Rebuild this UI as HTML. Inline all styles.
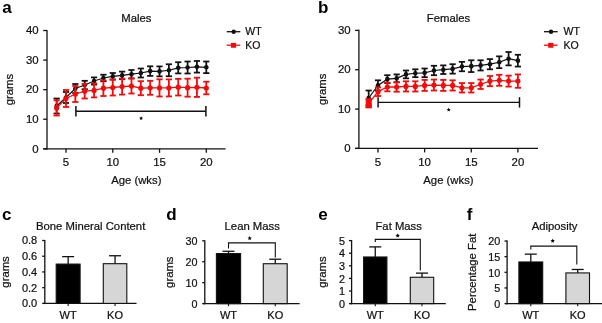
<!DOCTYPE html>
<html><head><meta charset="utf-8"><style>
html,body{margin:0;padding:0;background:#fff;}
svg{display:block;font-family:"Liberation Sans", sans-serif;will-change:transform;}
</style></head><body>
<svg width="602" height="323" viewBox="0 0 602 323">
<rect width="602" height="323" fill="#fff"/>
<text x="2.30" y="12.80" font-size="17" text-anchor="start" font-weight="bold" fill="#000">a</text>
<text x="318.10" y="12.80" font-size="17" text-anchor="start" font-weight="bold" fill="#000">b</text>
<text x="2.00" y="219.60" font-size="17" text-anchor="start" font-weight="bold" fill="#000">c</text>
<text x="166.20" y="219.90" font-size="17" text-anchor="start" font-weight="bold" fill="#000">d</text>
<text x="318.30" y="219.90" font-size="17" text-anchor="start" font-weight="bold" fill="#000">e</text>
<text x="466.80" y="220.20" font-size="17" text-anchor="start" font-weight="bold" fill="#000">f</text>
<line x1="47.00" y1="29.90" x2="47.00" y2="149.40" stroke="#111" stroke-width="1.3"/>
<line x1="43.20" y1="148.80" x2="225.60" y2="148.80" stroke="#111" stroke-width="1.3"/>
<line x1="43.20" y1="148.80" x2="47.00" y2="148.80" stroke="#111" stroke-width="1.3"/>
<text x="38.70" y="152.50" font-size="11.4" text-anchor="end" font-weight="normal" fill="#111" stroke="#111" stroke-width="0.22">0</text>
<line x1="43.20" y1="119.23" x2="47.00" y2="119.23" stroke="#111" stroke-width="1.3"/>
<text x="38.70" y="122.93" font-size="11.4" text-anchor="end" font-weight="normal" fill="#111" stroke="#111" stroke-width="0.22">10</text>
<line x1="43.20" y1="89.65" x2="47.00" y2="89.65" stroke="#111" stroke-width="1.3"/>
<text x="38.70" y="93.35" font-size="11.4" text-anchor="end" font-weight="normal" fill="#111" stroke="#111" stroke-width="0.22">20</text>
<line x1="43.20" y1="60.08" x2="47.00" y2="60.08" stroke="#111" stroke-width="1.3"/>
<text x="38.70" y="63.78" font-size="11.4" text-anchor="end" font-weight="normal" fill="#111" stroke="#111" stroke-width="0.22">30</text>
<line x1="43.20" y1="30.50" x2="47.00" y2="30.50" stroke="#111" stroke-width="1.3"/>
<text x="38.70" y="34.20" font-size="11.4" text-anchor="end" font-weight="normal" fill="#111" stroke="#111" stroke-width="0.22">40</text>
<line x1="66.00" y1="148.80" x2="66.00" y2="152.80" stroke="#111" stroke-width="1.3"/>
<text x="66.00" y="165.90" font-size="11.4" text-anchor="middle" font-weight="normal" fill="#111" stroke="#111" stroke-width="0.22">5</text>
<line x1="112.77" y1="148.80" x2="112.77" y2="152.80" stroke="#111" stroke-width="1.3"/>
<text x="112.77" y="165.90" font-size="11.4" text-anchor="middle" font-weight="normal" fill="#111" stroke="#111" stroke-width="0.22">10</text>
<line x1="159.53" y1="148.80" x2="159.53" y2="152.80" stroke="#111" stroke-width="1.3"/>
<text x="159.53" y="165.90" font-size="11.4" text-anchor="middle" font-weight="normal" fill="#111" stroke="#111" stroke-width="0.22">15</text>
<line x1="206.29" y1="148.80" x2="206.29" y2="152.80" stroke="#111" stroke-width="1.3"/>
<text x="206.29" y="165.90" font-size="11.4" text-anchor="middle" font-weight="normal" fill="#111" stroke="#111" stroke-width="0.22">20</text>
<text x="136.30" y="184.10" font-size="11.3" text-anchor="middle" font-weight="normal" fill="#111" stroke="#111" stroke-width="0.22">Age (wks)</text>
<text x="136.30" y="22.00" font-size="11.3" text-anchor="middle" font-weight="normal" fill="#111" stroke="#111" stroke-width="0.22">Males</text>
<text x="13.30" y="89.65" font-size="11.3" text-anchor="middle" font-weight="normal" fill="#111" stroke="#111" stroke-width="0.22" transform="rotate(-90 13.30 89.65)">grams</text>
<line x1="75.90" y1="111.20" x2="205.90" y2="111.20" stroke="#111" stroke-width="1.4"/>
<line x1="75.90" y1="106.00" x2="75.90" y2="116.40" stroke="#111" stroke-width="1.5"/>
<line x1="205.90" y1="106.00" x2="205.90" y2="116.40" stroke="#111" stroke-width="1.5"/>
<polygon points="141.10,116.20 141.66,117.54 143.10,117.65 142.00,118.59 142.33,120.00 141.10,119.24 139.87,120.00 140.20,118.59 139.10,117.65 140.54,117.54" fill="#000"/>
<polyline fill="none" stroke="#111" stroke-width="1.2" points="56.65,106.00 66.00,97.50 75.35,88.50 84.71,85.00 94.06,81.00 103.41,78.00 112.77,76.30 122.12,75.40 131.47,74.20 140.82,73.00 150.18,71.10 159.53,71.40 168.88,70.25 178.24,67.80 187.59,67.50 196.94,66.80 206.29,67.30"/>
<line x1="56.65" y1="98.50" x2="56.65" y2="113.50" stroke="#111" stroke-width="1.75"/>
<line x1="53.55" y1="98.50" x2="59.75" y2="98.50" stroke="#111" stroke-width="1.75"/>
<line x1="53.55" y1="113.50" x2="59.75" y2="113.50" stroke="#111" stroke-width="1.75"/>
<circle cx="56.65" cy="106.00" r="2.3" fill="#111"/>
<line x1="66.00" y1="92.00" x2="66.00" y2="103.00" stroke="#111" stroke-width="1.75"/>
<line x1="62.90" y1="92.00" x2="69.10" y2="92.00" stroke="#111" stroke-width="1.75"/>
<line x1="62.90" y1="103.00" x2="69.10" y2="103.00" stroke="#111" stroke-width="1.75"/>
<circle cx="66.00" cy="97.50" r="2.3" fill="#111"/>
<line x1="75.35" y1="84.00" x2="75.35" y2="93.00" stroke="#111" stroke-width="1.75"/>
<line x1="72.25" y1="84.00" x2="78.45" y2="84.00" stroke="#111" stroke-width="1.75"/>
<line x1="72.25" y1="93.00" x2="78.45" y2="93.00" stroke="#111" stroke-width="1.75"/>
<circle cx="75.35" cy="88.50" r="2.3" fill="#111"/>
<line x1="84.71" y1="80.80" x2="84.71" y2="89.20" stroke="#111" stroke-width="1.75"/>
<line x1="81.61" y1="80.80" x2="87.81" y2="80.80" stroke="#111" stroke-width="1.75"/>
<line x1="81.61" y1="89.20" x2="87.81" y2="89.20" stroke="#111" stroke-width="1.75"/>
<circle cx="84.71" cy="85.00" r="2.3" fill="#111"/>
<line x1="94.06" y1="77.40" x2="94.06" y2="84.60" stroke="#111" stroke-width="1.75"/>
<line x1="90.96" y1="77.40" x2="97.16" y2="77.40" stroke="#111" stroke-width="1.75"/>
<line x1="90.96" y1="84.60" x2="97.16" y2="84.60" stroke="#111" stroke-width="1.75"/>
<circle cx="94.06" cy="81.00" r="2.3" fill="#111"/>
<line x1="103.41" y1="74.70" x2="103.41" y2="81.30" stroke="#111" stroke-width="1.75"/>
<line x1="100.31" y1="74.70" x2="106.51" y2="74.70" stroke="#111" stroke-width="1.75"/>
<line x1="100.31" y1="81.30" x2="106.51" y2="81.30" stroke="#111" stroke-width="1.75"/>
<circle cx="103.41" cy="78.00" r="2.3" fill="#111"/>
<line x1="112.77" y1="73.00" x2="112.77" y2="79.60" stroke="#111" stroke-width="1.75"/>
<line x1="109.67" y1="73.00" x2="115.86" y2="73.00" stroke="#111" stroke-width="1.75"/>
<line x1="109.67" y1="79.60" x2="115.86" y2="79.60" stroke="#111" stroke-width="1.75"/>
<circle cx="112.77" cy="76.30" r="2.3" fill="#111"/>
<line x1="122.12" y1="71.60" x2="122.12" y2="79.20" stroke="#111" stroke-width="1.75"/>
<line x1="119.02" y1="71.60" x2="125.22" y2="71.60" stroke="#111" stroke-width="1.75"/>
<line x1="119.02" y1="79.20" x2="125.22" y2="79.20" stroke="#111" stroke-width="1.75"/>
<circle cx="122.12" cy="75.40" r="2.3" fill="#111"/>
<line x1="131.47" y1="70.00" x2="131.47" y2="78.40" stroke="#111" stroke-width="1.75"/>
<line x1="128.37" y1="70.00" x2="134.57" y2="70.00" stroke="#111" stroke-width="1.75"/>
<line x1="128.37" y1="78.40" x2="134.57" y2="78.40" stroke="#111" stroke-width="1.75"/>
<circle cx="131.47" cy="74.20" r="2.3" fill="#111"/>
<line x1="140.82" y1="68.50" x2="140.82" y2="77.50" stroke="#111" stroke-width="1.75"/>
<line x1="137.72" y1="68.50" x2="143.92" y2="68.50" stroke="#111" stroke-width="1.75"/>
<line x1="137.72" y1="77.50" x2="143.92" y2="77.50" stroke="#111" stroke-width="1.75"/>
<circle cx="140.82" cy="73.00" r="2.3" fill="#111"/>
<line x1="150.18" y1="66.30" x2="150.18" y2="75.90" stroke="#111" stroke-width="1.75"/>
<line x1="147.08" y1="66.30" x2="153.28" y2="66.30" stroke="#111" stroke-width="1.75"/>
<line x1="147.08" y1="75.90" x2="153.28" y2="75.90" stroke="#111" stroke-width="1.75"/>
<circle cx="150.18" cy="71.10" r="2.3" fill="#111"/>
<line x1="159.53" y1="66.40" x2="159.53" y2="76.40" stroke="#111" stroke-width="1.75"/>
<line x1="156.43" y1="66.40" x2="162.63" y2="66.40" stroke="#111" stroke-width="1.75"/>
<line x1="156.43" y1="76.40" x2="162.63" y2="76.40" stroke="#111" stroke-width="1.75"/>
<circle cx="159.53" cy="71.40" r="2.3" fill="#111"/>
<line x1="168.88" y1="64.25" x2="168.88" y2="76.25" stroke="#111" stroke-width="1.75"/>
<line x1="165.78" y1="64.25" x2="171.98" y2="64.25" stroke="#111" stroke-width="1.75"/>
<line x1="165.78" y1="76.25" x2="171.98" y2="76.25" stroke="#111" stroke-width="1.75"/>
<circle cx="168.88" cy="70.25" r="2.3" fill="#111"/>
<line x1="178.24" y1="62.20" x2="178.24" y2="73.40" stroke="#111" stroke-width="1.75"/>
<line x1="175.14" y1="62.20" x2="181.34" y2="62.20" stroke="#111" stroke-width="1.75"/>
<line x1="175.14" y1="73.40" x2="181.34" y2="73.40" stroke="#111" stroke-width="1.75"/>
<circle cx="178.24" cy="67.80" r="2.3" fill="#111"/>
<line x1="187.59" y1="61.50" x2="187.59" y2="73.50" stroke="#111" stroke-width="1.75"/>
<line x1="184.49" y1="61.50" x2="190.69" y2="61.50" stroke="#111" stroke-width="1.75"/>
<line x1="184.49" y1="73.50" x2="190.69" y2="73.50" stroke="#111" stroke-width="1.75"/>
<circle cx="187.59" cy="67.50" r="2.3" fill="#111"/>
<line x1="196.94" y1="61.00" x2="196.94" y2="72.60" stroke="#111" stroke-width="1.75"/>
<line x1="193.84" y1="61.00" x2="200.04" y2="61.00" stroke="#111" stroke-width="1.75"/>
<line x1="193.84" y1="72.60" x2="200.04" y2="72.60" stroke="#111" stroke-width="1.75"/>
<circle cx="196.94" cy="66.80" r="2.3" fill="#111"/>
<line x1="206.29" y1="61.50" x2="206.29" y2="73.10" stroke="#111" stroke-width="1.75"/>
<line x1="203.19" y1="61.50" x2="209.39" y2="61.50" stroke="#111" stroke-width="1.75"/>
<line x1="203.19" y1="73.10" x2="209.39" y2="73.10" stroke="#111" stroke-width="1.75"/>
<circle cx="206.29" cy="67.30" r="2.3" fill="#111"/>
<polyline fill="none" stroke="#f50a0a" stroke-width="1.3" points="56.65,107.90 66.00,98.50 75.35,94.00 84.71,91.20 94.06,90.40 103.41,88.20 112.77,87.50 122.12,86.60 131.47,86.00 140.82,88.20 150.18,87.80 159.53,87.90 168.88,87.90 178.24,87.20 187.59,87.70 196.94,87.30 206.29,88.00"/>
<line x1="56.65" y1="100.30" x2="56.65" y2="115.50" stroke="#f50a0a" stroke-width="1.8"/>
<line x1="53.55" y1="100.30" x2="59.75" y2="100.30" stroke="#f50a0a" stroke-width="1.8"/>
<line x1="53.55" y1="115.50" x2="59.75" y2="115.50" stroke="#f50a0a" stroke-width="1.8"/>
<circle cx="56.65" cy="107.90" r="2.6" fill="#f50a0a"/>
<line x1="66.00" y1="90.00" x2="66.00" y2="107.00" stroke="#f50a0a" stroke-width="1.8"/>
<line x1="62.90" y1="90.00" x2="69.10" y2="90.00" stroke="#f50a0a" stroke-width="1.8"/>
<line x1="62.90" y1="107.00" x2="69.10" y2="107.00" stroke="#f50a0a" stroke-width="1.8"/>
<circle cx="66.00" cy="98.50" r="2.6" fill="#f50a0a"/>
<line x1="75.35" y1="86.00" x2="75.35" y2="102.00" stroke="#f50a0a" stroke-width="1.8"/>
<line x1="72.25" y1="86.00" x2="78.45" y2="86.00" stroke="#f50a0a" stroke-width="1.8"/>
<line x1="72.25" y1="102.00" x2="78.45" y2="102.00" stroke="#f50a0a" stroke-width="1.8"/>
<circle cx="75.35" cy="94.00" r="2.6" fill="#f50a0a"/>
<line x1="84.71" y1="83.90" x2="84.71" y2="98.50" stroke="#f50a0a" stroke-width="1.8"/>
<line x1="81.61" y1="83.90" x2="87.81" y2="83.90" stroke="#f50a0a" stroke-width="1.8"/>
<line x1="81.61" y1="98.50" x2="87.81" y2="98.50" stroke="#f50a0a" stroke-width="1.8"/>
<circle cx="84.71" cy="91.20" r="2.6" fill="#f50a0a"/>
<line x1="94.06" y1="83.40" x2="94.06" y2="97.40" stroke="#f50a0a" stroke-width="1.8"/>
<line x1="90.96" y1="83.40" x2="97.16" y2="83.40" stroke="#f50a0a" stroke-width="1.8"/>
<line x1="90.96" y1="97.40" x2="97.16" y2="97.40" stroke="#f50a0a" stroke-width="1.8"/>
<circle cx="94.06" cy="90.40" r="2.6" fill="#f50a0a"/>
<line x1="103.41" y1="80.40" x2="103.41" y2="96.00" stroke="#f50a0a" stroke-width="1.8"/>
<line x1="100.31" y1="80.40" x2="106.51" y2="80.40" stroke="#f50a0a" stroke-width="1.8"/>
<line x1="100.31" y1="96.00" x2="106.51" y2="96.00" stroke="#f50a0a" stroke-width="1.8"/>
<circle cx="103.41" cy="88.20" r="2.6" fill="#f50a0a"/>
<line x1="112.77" y1="79.50" x2="112.77" y2="95.50" stroke="#f50a0a" stroke-width="1.8"/>
<line x1="109.67" y1="79.50" x2="115.86" y2="79.50" stroke="#f50a0a" stroke-width="1.8"/>
<line x1="109.67" y1="95.50" x2="115.86" y2="95.50" stroke="#f50a0a" stroke-width="1.8"/>
<circle cx="112.77" cy="87.50" r="2.6" fill="#f50a0a"/>
<line x1="122.12" y1="78.60" x2="122.12" y2="94.60" stroke="#f50a0a" stroke-width="1.8"/>
<line x1="119.02" y1="78.60" x2="125.22" y2="78.60" stroke="#f50a0a" stroke-width="1.8"/>
<line x1="119.02" y1="94.60" x2="125.22" y2="94.60" stroke="#f50a0a" stroke-width="1.8"/>
<circle cx="122.12" cy="86.60" r="2.6" fill="#f50a0a"/>
<line x1="131.47" y1="78.50" x2="131.47" y2="93.50" stroke="#f50a0a" stroke-width="1.8"/>
<line x1="128.37" y1="78.50" x2="134.57" y2="78.50" stroke="#f50a0a" stroke-width="1.8"/>
<line x1="128.37" y1="93.50" x2="134.57" y2="93.50" stroke="#f50a0a" stroke-width="1.8"/>
<circle cx="131.47" cy="86.00" r="2.6" fill="#f50a0a"/>
<line x1="140.82" y1="81.20" x2="140.82" y2="95.20" stroke="#f50a0a" stroke-width="1.8"/>
<line x1="137.72" y1="81.20" x2="143.92" y2="81.20" stroke="#f50a0a" stroke-width="1.8"/>
<line x1="137.72" y1="95.20" x2="143.92" y2="95.20" stroke="#f50a0a" stroke-width="1.8"/>
<circle cx="140.82" cy="88.20" r="2.6" fill="#f50a0a"/>
<line x1="150.18" y1="80.80" x2="150.18" y2="94.80" stroke="#f50a0a" stroke-width="1.8"/>
<line x1="147.08" y1="80.80" x2="153.28" y2="80.80" stroke="#f50a0a" stroke-width="1.8"/>
<line x1="147.08" y1="94.80" x2="153.28" y2="94.80" stroke="#f50a0a" stroke-width="1.8"/>
<circle cx="150.18" cy="87.80" r="2.6" fill="#f50a0a"/>
<line x1="159.53" y1="79.30" x2="159.53" y2="96.50" stroke="#f50a0a" stroke-width="1.8"/>
<line x1="156.43" y1="79.30" x2="162.63" y2="79.30" stroke="#f50a0a" stroke-width="1.8"/>
<line x1="156.43" y1="96.50" x2="162.63" y2="96.50" stroke="#f50a0a" stroke-width="1.8"/>
<circle cx="159.53" cy="87.90" r="2.6" fill="#f50a0a"/>
<line x1="168.88" y1="79.40" x2="168.88" y2="96.40" stroke="#f50a0a" stroke-width="1.8"/>
<line x1="165.78" y1="79.40" x2="171.98" y2="79.40" stroke="#f50a0a" stroke-width="1.8"/>
<line x1="165.78" y1="96.40" x2="171.98" y2="96.40" stroke="#f50a0a" stroke-width="1.8"/>
<circle cx="168.88" cy="87.90" r="2.6" fill="#f50a0a"/>
<line x1="178.24" y1="78.90" x2="178.24" y2="95.50" stroke="#f50a0a" stroke-width="1.8"/>
<line x1="175.14" y1="78.90" x2="181.34" y2="78.90" stroke="#f50a0a" stroke-width="1.8"/>
<line x1="175.14" y1="95.50" x2="181.34" y2="95.50" stroke="#f50a0a" stroke-width="1.8"/>
<circle cx="178.24" cy="87.20" r="2.6" fill="#f50a0a"/>
<line x1="187.59" y1="78.70" x2="187.59" y2="96.70" stroke="#f50a0a" stroke-width="1.8"/>
<line x1="184.49" y1="78.70" x2="190.69" y2="78.70" stroke="#f50a0a" stroke-width="1.8"/>
<line x1="184.49" y1="96.70" x2="190.69" y2="96.70" stroke="#f50a0a" stroke-width="1.8"/>
<circle cx="187.59" cy="87.70" r="2.6" fill="#f50a0a"/>
<line x1="196.94" y1="77.70" x2="196.94" y2="96.90" stroke="#f50a0a" stroke-width="1.8"/>
<line x1="193.84" y1="77.70" x2="200.04" y2="77.70" stroke="#f50a0a" stroke-width="1.8"/>
<line x1="193.84" y1="96.90" x2="200.04" y2="96.90" stroke="#f50a0a" stroke-width="1.8"/>
<circle cx="196.94" cy="87.30" r="2.6" fill="#f50a0a"/>
<line x1="206.29" y1="81.70" x2="206.29" y2="94.30" stroke="#f50a0a" stroke-width="1.8"/>
<line x1="203.19" y1="81.70" x2="209.39" y2="81.70" stroke="#f50a0a" stroke-width="1.8"/>
<line x1="203.19" y1="94.30" x2="209.39" y2="94.30" stroke="#f50a0a" stroke-width="1.8"/>
<circle cx="206.29" cy="88.00" r="2.6" fill="#f50a0a"/>
<line x1="226.70" y1="31.70" x2="240.30" y2="31.70" stroke="#111" stroke-width="1.3"/>
<circle cx="233.70" cy="31.7" r="2.2" fill="#111"/>
<text x="245.30" y="35.30" font-size="10.5" text-anchor="start" font-weight="normal" fill="#111" stroke="#111" stroke-width="0.22">WT</text>
<line x1="226.70" y1="45.20" x2="240.30" y2="45.20" stroke="#f50a0a" stroke-width="1.3"/>
<rect x="230.90" y="42.85" width="5.2" height="4.9" fill="#f50a0a"/>
<text x="245.30" y="48.70" font-size="10.5" text-anchor="start" font-weight="normal" fill="#111" stroke="#111" stroke-width="0.22">KO</text>
<line x1="358.90" y1="29.80" x2="358.90" y2="149.00" stroke="#111" stroke-width="1.3"/>
<line x1="355.10" y1="148.40" x2="538.00" y2="148.40" stroke="#111" stroke-width="1.3"/>
<line x1="355.10" y1="148.40" x2="358.90" y2="148.40" stroke="#111" stroke-width="1.3"/>
<text x="350.60" y="152.10" font-size="11.4" text-anchor="end" font-weight="normal" fill="#111" stroke="#111" stroke-width="0.22">0</text>
<line x1="355.10" y1="109.07" x2="358.90" y2="109.07" stroke="#111" stroke-width="1.3"/>
<text x="350.60" y="112.77" font-size="11.4" text-anchor="end" font-weight="normal" fill="#111" stroke="#111" stroke-width="0.22">10</text>
<line x1="355.10" y1="69.73" x2="358.90" y2="69.73" stroke="#111" stroke-width="1.3"/>
<text x="350.60" y="73.43" font-size="11.4" text-anchor="end" font-weight="normal" fill="#111" stroke="#111" stroke-width="0.22">20</text>
<line x1="355.10" y1="30.40" x2="358.90" y2="30.40" stroke="#111" stroke-width="1.3"/>
<text x="350.60" y="34.10" font-size="11.4" text-anchor="end" font-weight="normal" fill="#111" stroke="#111" stroke-width="0.22">30</text>
<line x1="378.00" y1="148.40" x2="378.00" y2="152.40" stroke="#111" stroke-width="1.3"/>
<text x="378.00" y="165.50" font-size="11.4" text-anchor="middle" font-weight="normal" fill="#111" stroke="#111" stroke-width="0.22">5</text>
<line x1="424.63" y1="148.40" x2="424.63" y2="152.40" stroke="#111" stroke-width="1.3"/>
<text x="424.63" y="165.50" font-size="11.4" text-anchor="middle" font-weight="normal" fill="#111" stroke="#111" stroke-width="0.22">10</text>
<line x1="471.27" y1="148.40" x2="471.27" y2="152.40" stroke="#111" stroke-width="1.3"/>
<text x="471.27" y="165.50" font-size="11.4" text-anchor="middle" font-weight="normal" fill="#111" stroke="#111" stroke-width="0.22">15</text>
<line x1="517.90" y1="148.40" x2="517.90" y2="152.40" stroke="#111" stroke-width="1.3"/>
<text x="517.90" y="165.50" font-size="11.4" text-anchor="middle" font-weight="normal" fill="#111" stroke="#111" stroke-width="0.22">20</text>
<text x="448.45" y="184.10" font-size="11.3" text-anchor="middle" font-weight="normal" fill="#111" stroke="#111" stroke-width="0.22">Age (wks)</text>
<text x="448.45" y="22.00" font-size="11.3" text-anchor="middle" font-weight="normal" fill="#111" stroke="#111" stroke-width="0.22">Females</text>
<text x="326.30" y="89.40" font-size="11.3" text-anchor="middle" font-weight="normal" fill="#111" stroke="#111" stroke-width="0.22" transform="rotate(-90 326.30 89.40)">grams</text>
<line x1="378.10" y1="102.40" x2="519.50" y2="102.40" stroke="#111" stroke-width="1.4"/>
<line x1="378.10" y1="97.20" x2="378.10" y2="107.60" stroke="#111" stroke-width="1.5"/>
<line x1="519.50" y1="97.20" x2="519.50" y2="107.60" stroke="#111" stroke-width="1.5"/>
<polygon points="448.70,107.60 449.26,108.94 450.70,109.05 449.60,109.99 449.93,111.40 448.70,110.64 447.47,111.40 447.80,109.99 446.70,109.05 448.14,108.94" fill="#000"/>
<polyline fill="none" stroke="#111" stroke-width="1.2" points="368.67,98.00 378.00,85.42 387.33,79.13 396.65,78.35 405.98,74.42 415.31,73.24 424.63,72.84 433.96,70.49 443.29,69.70 452.62,68.91 461.94,66.56 471.27,66.16 480.60,65.38 489.92,64.20 499.25,62.23 508.58,58.70 517.90,60.66"/>
<line x1="368.67" y1="90.53" x2="368.67" y2="105.46" stroke="#111" stroke-width="1.75"/>
<line x1="365.57" y1="90.53" x2="371.77" y2="90.53" stroke="#111" stroke-width="1.75"/>
<line x1="365.57" y1="105.46" x2="371.77" y2="105.46" stroke="#111" stroke-width="1.75"/>
<circle cx="368.67" cy="98.00" r="2.3" fill="#111"/>
<line x1="378.00" y1="80.31" x2="378.00" y2="90.53" stroke="#111" stroke-width="1.75"/>
<line x1="374.90" y1="80.31" x2="381.10" y2="80.31" stroke="#111" stroke-width="1.75"/>
<line x1="374.90" y1="90.53" x2="381.10" y2="90.53" stroke="#111" stroke-width="1.75"/>
<circle cx="378.00" cy="85.42" r="2.3" fill="#111"/>
<line x1="387.33" y1="75.20" x2="387.33" y2="83.06" stroke="#111" stroke-width="1.75"/>
<line x1="384.23" y1="75.20" x2="390.43" y2="75.20" stroke="#111" stroke-width="1.75"/>
<line x1="384.23" y1="83.06" x2="390.43" y2="83.06" stroke="#111" stroke-width="1.75"/>
<circle cx="387.33" cy="79.13" r="2.3" fill="#111"/>
<line x1="396.65" y1="74.42" x2="396.65" y2="82.28" stroke="#111" stroke-width="1.75"/>
<line x1="393.55" y1="74.42" x2="399.75" y2="74.42" stroke="#111" stroke-width="1.75"/>
<line x1="393.55" y1="82.28" x2="399.75" y2="82.28" stroke="#111" stroke-width="1.75"/>
<circle cx="396.65" cy="78.35" r="2.3" fill="#111"/>
<line x1="405.98" y1="70.49" x2="405.98" y2="78.35" stroke="#111" stroke-width="1.75"/>
<line x1="402.88" y1="70.49" x2="409.08" y2="70.49" stroke="#111" stroke-width="1.75"/>
<line x1="402.88" y1="78.35" x2="409.08" y2="78.35" stroke="#111" stroke-width="1.75"/>
<circle cx="405.98" cy="74.42" r="2.3" fill="#111"/>
<line x1="415.31" y1="69.31" x2="415.31" y2="77.17" stroke="#111" stroke-width="1.75"/>
<line x1="412.21" y1="69.31" x2="418.41" y2="69.31" stroke="#111" stroke-width="1.75"/>
<line x1="412.21" y1="77.17" x2="418.41" y2="77.17" stroke="#111" stroke-width="1.75"/>
<circle cx="415.31" cy="73.24" r="2.3" fill="#111"/>
<line x1="424.63" y1="68.52" x2="424.63" y2="77.17" stroke="#111" stroke-width="1.75"/>
<line x1="421.53" y1="68.52" x2="427.74" y2="68.52" stroke="#111" stroke-width="1.75"/>
<line x1="421.53" y1="77.17" x2="427.74" y2="77.17" stroke="#111" stroke-width="1.75"/>
<circle cx="424.63" cy="72.84" r="2.3" fill="#111"/>
<line x1="433.96" y1="65.77" x2="433.96" y2="75.20" stroke="#111" stroke-width="1.75"/>
<line x1="430.86" y1="65.77" x2="437.06" y2="65.77" stroke="#111" stroke-width="1.75"/>
<line x1="430.86" y1="75.20" x2="437.06" y2="75.20" stroke="#111" stroke-width="1.75"/>
<circle cx="433.96" cy="70.49" r="2.3" fill="#111"/>
<line x1="443.29" y1="65.38" x2="443.29" y2="74.02" stroke="#111" stroke-width="1.75"/>
<line x1="440.19" y1="65.38" x2="446.39" y2="65.38" stroke="#111" stroke-width="1.75"/>
<line x1="440.19" y1="74.02" x2="446.39" y2="74.02" stroke="#111" stroke-width="1.75"/>
<circle cx="443.29" cy="69.70" r="2.3" fill="#111"/>
<line x1="452.62" y1="64.20" x2="452.62" y2="73.63" stroke="#111" stroke-width="1.75"/>
<line x1="449.52" y1="64.20" x2="455.72" y2="64.20" stroke="#111" stroke-width="1.75"/>
<line x1="449.52" y1="73.63" x2="455.72" y2="73.63" stroke="#111" stroke-width="1.75"/>
<circle cx="452.62" cy="68.91" r="2.3" fill="#111"/>
<line x1="461.94" y1="61.84" x2="461.94" y2="71.27" stroke="#111" stroke-width="1.75"/>
<line x1="458.84" y1="61.84" x2="465.04" y2="61.84" stroke="#111" stroke-width="1.75"/>
<line x1="458.84" y1="71.27" x2="465.04" y2="71.27" stroke="#111" stroke-width="1.75"/>
<circle cx="461.94" cy="66.56" r="2.3" fill="#111"/>
<line x1="471.27" y1="60.27" x2="471.27" y2="72.06" stroke="#111" stroke-width="1.75"/>
<line x1="468.17" y1="60.27" x2="474.37" y2="60.27" stroke="#111" stroke-width="1.75"/>
<line x1="468.17" y1="72.06" x2="474.37" y2="72.06" stroke="#111" stroke-width="1.75"/>
<circle cx="471.27" cy="66.16" r="2.3" fill="#111"/>
<line x1="480.60" y1="60.27" x2="480.60" y2="70.49" stroke="#111" stroke-width="1.75"/>
<line x1="477.50" y1="60.27" x2="483.70" y2="60.27" stroke="#111" stroke-width="1.75"/>
<line x1="477.50" y1="70.49" x2="483.70" y2="70.49" stroke="#111" stroke-width="1.75"/>
<circle cx="480.60" cy="65.38" r="2.3" fill="#111"/>
<line x1="489.92" y1="59.09" x2="489.92" y2="69.31" stroke="#111" stroke-width="1.75"/>
<line x1="486.82" y1="59.09" x2="493.02" y2="59.09" stroke="#111" stroke-width="1.75"/>
<line x1="486.82" y1="69.31" x2="493.02" y2="69.31" stroke="#111" stroke-width="1.75"/>
<circle cx="489.92" cy="64.20" r="2.3" fill="#111"/>
<line x1="499.25" y1="56.34" x2="499.25" y2="68.13" stroke="#111" stroke-width="1.75"/>
<line x1="496.15" y1="56.34" x2="502.35" y2="56.34" stroke="#111" stroke-width="1.75"/>
<line x1="496.15" y1="68.13" x2="502.35" y2="68.13" stroke="#111" stroke-width="1.75"/>
<circle cx="499.25" cy="62.23" r="2.3" fill="#111"/>
<line x1="508.58" y1="52.02" x2="508.58" y2="65.38" stroke="#111" stroke-width="1.75"/>
<line x1="505.48" y1="52.02" x2="511.68" y2="52.02" stroke="#111" stroke-width="1.75"/>
<line x1="505.48" y1="65.38" x2="511.68" y2="65.38" stroke="#111" stroke-width="1.75"/>
<circle cx="508.58" cy="58.70" r="2.3" fill="#111"/>
<line x1="517.90" y1="54.77" x2="517.90" y2="66.56" stroke="#111" stroke-width="1.75"/>
<line x1="514.80" y1="54.77" x2="521.00" y2="54.77" stroke="#111" stroke-width="1.75"/>
<line x1="514.80" y1="66.56" x2="521.00" y2="66.56" stroke="#111" stroke-width="1.75"/>
<circle cx="517.90" cy="60.66" r="2.3" fill="#111"/>
<polyline fill="none" stroke="#f50a0a" stroke-width="1.3" points="368.67,103.30 378.00,91.71 387.33,86.99 396.65,86.99 405.98,86.40 415.31,86.40 424.63,85.42 433.96,85.03 443.29,85.42 452.62,85.42 461.94,87.78 471.27,87.78 480.60,84.24 489.92,81.10 499.25,80.31 508.58,81.10 517.90,81.10"/>
<line x1="368.67" y1="99.18" x2="368.67" y2="107.43" stroke="#f50a0a" stroke-width="1.8"/>
<line x1="365.57" y1="99.18" x2="371.77" y2="99.18" stroke="#f50a0a" stroke-width="1.8"/>
<line x1="365.57" y1="107.43" x2="371.77" y2="107.43" stroke="#f50a0a" stroke-width="1.8"/>
<circle cx="368.67" cy="103.30" r="2.6" fill="#f50a0a"/>
<line x1="378.00" y1="87.38" x2="378.00" y2="96.03" stroke="#f50a0a" stroke-width="1.8"/>
<line x1="374.90" y1="87.38" x2="381.10" y2="87.38" stroke="#f50a0a" stroke-width="1.8"/>
<line x1="374.90" y1="96.03" x2="381.10" y2="96.03" stroke="#f50a0a" stroke-width="1.8"/>
<circle cx="378.00" cy="91.71" r="2.6" fill="#f50a0a"/>
<line x1="387.33" y1="82.67" x2="387.33" y2="91.32" stroke="#f50a0a" stroke-width="1.8"/>
<line x1="384.23" y1="82.67" x2="390.43" y2="82.67" stroke="#f50a0a" stroke-width="1.8"/>
<line x1="384.23" y1="91.32" x2="390.43" y2="91.32" stroke="#f50a0a" stroke-width="1.8"/>
<circle cx="387.33" cy="86.99" r="2.6" fill="#f50a0a"/>
<line x1="396.65" y1="82.28" x2="396.65" y2="91.71" stroke="#f50a0a" stroke-width="1.8"/>
<line x1="393.55" y1="82.28" x2="399.75" y2="82.28" stroke="#f50a0a" stroke-width="1.8"/>
<line x1="393.55" y1="91.71" x2="399.75" y2="91.71" stroke="#f50a0a" stroke-width="1.8"/>
<circle cx="396.65" cy="86.99" r="2.6" fill="#f50a0a"/>
<line x1="405.98" y1="81.29" x2="405.98" y2="91.51" stroke="#f50a0a" stroke-width="1.8"/>
<line x1="402.88" y1="81.29" x2="409.08" y2="81.29" stroke="#f50a0a" stroke-width="1.8"/>
<line x1="402.88" y1="91.51" x2="409.08" y2="91.51" stroke="#f50a0a" stroke-width="1.8"/>
<circle cx="405.98" cy="86.40" r="2.6" fill="#f50a0a"/>
<line x1="415.31" y1="81.29" x2="415.31" y2="91.51" stroke="#f50a0a" stroke-width="1.8"/>
<line x1="412.21" y1="81.29" x2="418.41" y2="81.29" stroke="#f50a0a" stroke-width="1.8"/>
<line x1="412.21" y1="91.51" x2="418.41" y2="91.51" stroke="#f50a0a" stroke-width="1.8"/>
<circle cx="415.31" cy="86.40" r="2.6" fill="#f50a0a"/>
<line x1="424.63" y1="79.92" x2="424.63" y2="90.92" stroke="#f50a0a" stroke-width="1.8"/>
<line x1="421.53" y1="79.92" x2="427.74" y2="79.92" stroke="#f50a0a" stroke-width="1.8"/>
<line x1="421.53" y1="90.92" x2="427.74" y2="90.92" stroke="#f50a0a" stroke-width="1.8"/>
<circle cx="424.63" cy="85.42" r="2.6" fill="#f50a0a"/>
<line x1="433.96" y1="79.53" x2="433.96" y2="90.53" stroke="#f50a0a" stroke-width="1.8"/>
<line x1="430.86" y1="79.53" x2="437.06" y2="79.53" stroke="#f50a0a" stroke-width="1.8"/>
<line x1="430.86" y1="90.53" x2="437.06" y2="90.53" stroke="#f50a0a" stroke-width="1.8"/>
<circle cx="433.96" cy="85.03" r="2.6" fill="#f50a0a"/>
<line x1="443.29" y1="79.92" x2="443.29" y2="90.92" stroke="#f50a0a" stroke-width="1.8"/>
<line x1="440.19" y1="79.92" x2="446.39" y2="79.92" stroke="#f50a0a" stroke-width="1.8"/>
<line x1="440.19" y1="90.92" x2="446.39" y2="90.92" stroke="#f50a0a" stroke-width="1.8"/>
<circle cx="443.29" cy="85.42" r="2.6" fill="#f50a0a"/>
<line x1="452.62" y1="80.31" x2="452.62" y2="90.53" stroke="#f50a0a" stroke-width="1.8"/>
<line x1="449.52" y1="80.31" x2="455.72" y2="80.31" stroke="#f50a0a" stroke-width="1.8"/>
<line x1="449.52" y1="90.53" x2="455.72" y2="90.53" stroke="#f50a0a" stroke-width="1.8"/>
<circle cx="452.62" cy="85.42" r="2.6" fill="#f50a0a"/>
<line x1="461.94" y1="83.06" x2="461.94" y2="92.49" stroke="#f50a0a" stroke-width="1.8"/>
<line x1="458.84" y1="83.06" x2="465.04" y2="83.06" stroke="#f50a0a" stroke-width="1.8"/>
<line x1="458.84" y1="92.49" x2="465.04" y2="92.49" stroke="#f50a0a" stroke-width="1.8"/>
<circle cx="461.94" cy="87.78" r="2.6" fill="#f50a0a"/>
<line x1="471.27" y1="83.06" x2="471.27" y2="92.49" stroke="#f50a0a" stroke-width="1.8"/>
<line x1="468.17" y1="83.06" x2="474.37" y2="83.06" stroke="#f50a0a" stroke-width="1.8"/>
<line x1="468.17" y1="92.49" x2="474.37" y2="92.49" stroke="#f50a0a" stroke-width="1.8"/>
<circle cx="471.27" cy="87.78" r="2.6" fill="#f50a0a"/>
<line x1="480.60" y1="79.53" x2="480.60" y2="88.96" stroke="#f50a0a" stroke-width="1.8"/>
<line x1="477.50" y1="79.53" x2="483.70" y2="79.53" stroke="#f50a0a" stroke-width="1.8"/>
<line x1="477.50" y1="88.96" x2="483.70" y2="88.96" stroke="#f50a0a" stroke-width="1.8"/>
<circle cx="480.60" cy="84.24" r="2.6" fill="#f50a0a"/>
<line x1="489.92" y1="75.99" x2="489.92" y2="86.21" stroke="#f50a0a" stroke-width="1.8"/>
<line x1="486.82" y1="75.99" x2="493.02" y2="75.99" stroke="#f50a0a" stroke-width="1.8"/>
<line x1="486.82" y1="86.21" x2="493.02" y2="86.21" stroke="#f50a0a" stroke-width="1.8"/>
<circle cx="489.92" cy="81.10" r="2.6" fill="#f50a0a"/>
<line x1="499.25" y1="74.81" x2="499.25" y2="85.81" stroke="#f50a0a" stroke-width="1.8"/>
<line x1="496.15" y1="74.81" x2="502.35" y2="74.81" stroke="#f50a0a" stroke-width="1.8"/>
<line x1="496.15" y1="85.81" x2="502.35" y2="85.81" stroke="#f50a0a" stroke-width="1.8"/>
<circle cx="499.25" cy="80.31" r="2.6" fill="#f50a0a"/>
<line x1="508.58" y1="75.60" x2="508.58" y2="86.60" stroke="#f50a0a" stroke-width="1.8"/>
<line x1="505.48" y1="75.60" x2="511.68" y2="75.60" stroke="#f50a0a" stroke-width="1.8"/>
<line x1="505.48" y1="86.60" x2="511.68" y2="86.60" stroke="#f50a0a" stroke-width="1.8"/>
<circle cx="508.58" cy="81.10" r="2.6" fill="#f50a0a"/>
<line x1="517.90" y1="74.42" x2="517.90" y2="87.78" stroke="#f50a0a" stroke-width="1.8"/>
<line x1="514.80" y1="74.42" x2="521.00" y2="74.42" stroke="#f50a0a" stroke-width="1.8"/>
<line x1="514.80" y1="87.78" x2="521.00" y2="87.78" stroke="#f50a0a" stroke-width="1.8"/>
<circle cx="517.90" cy="81.10" r="2.6" fill="#f50a0a"/>
<line x1="544.00" y1="31.70" x2="557.60" y2="31.70" stroke="#111" stroke-width="1.3"/>
<circle cx="551.00" cy="31.7" r="2.2" fill="#111"/>
<text x="563.60" y="35.30" font-size="10.5" text-anchor="start" font-weight="normal" fill="#111" stroke="#111" stroke-width="0.22">WT</text>
<line x1="544.00" y1="45.20" x2="557.60" y2="45.20" stroke="#f50a0a" stroke-width="1.3"/>
<rect x="548.20" y="42.85" width="5.2" height="4.9" fill="#f50a0a"/>
<text x="563.60" y="48.70" font-size="10.5" text-anchor="start" font-weight="normal" fill="#111" stroke="#111" stroke-width="0.22">KO</text>
<rect x="365.7" y="98.6" width="6.0" height="9.2" fill="#f50a0a"/>
<line x1="44.80" y1="239.90" x2="44.80" y2="304.00" stroke="#111" stroke-width="1.3"/>
<line x1="43.30" y1="303.40" x2="136.50" y2="303.40" stroke="#111" stroke-width="1.3"/>
<line x1="42.20" y1="303.40" x2="44.80" y2="303.40" stroke="#111" stroke-width="1.3"/>
<text x="37.20" y="307.30" font-size="11.0" text-anchor="end" font-weight="normal" fill="#111" stroke="#111" stroke-width="0.22">0.0</text>
<line x1="42.20" y1="287.67" x2="44.80" y2="287.67" stroke="#111" stroke-width="1.3"/>
<text x="37.20" y="291.57" font-size="11.0" text-anchor="end" font-weight="normal" fill="#111" stroke="#111" stroke-width="0.22">0.2</text>
<line x1="42.20" y1="271.95" x2="44.80" y2="271.95" stroke="#111" stroke-width="1.3"/>
<text x="37.20" y="275.85" font-size="11.0" text-anchor="end" font-weight="normal" fill="#111" stroke="#111" stroke-width="0.22">0.4</text>
<line x1="42.20" y1="256.23" x2="44.80" y2="256.23" stroke="#111" stroke-width="1.3"/>
<text x="37.20" y="260.12" font-size="11.0" text-anchor="end" font-weight="normal" fill="#111" stroke="#111" stroke-width="0.22">0.6</text>
<line x1="42.20" y1="240.50" x2="44.80" y2="240.50" stroke="#111" stroke-width="1.3"/>
<text x="37.20" y="244.40" font-size="11.0" text-anchor="end" font-weight="normal" fill="#111" stroke="#111" stroke-width="0.22">0.8</text>
<line x1="68.15" y1="264.09" x2="68.15" y2="256.62" stroke="#111" stroke-width="1.3"/>
<line x1="62.15" y1="256.62" x2="74.15" y2="256.62" stroke="#111" stroke-width="1.3"/>
<rect x="56.20" y="264.09" width="23.90" height="39.31" fill="#000" stroke="#111" stroke-width="1.1"/>
<line x1="68.15" y1="303.40" x2="68.15" y2="306.00" stroke="#111" stroke-width="1.1"/>
<text x="68.15" y="318.50" font-size="11" text-anchor="middle" font-weight="normal" fill="#111" stroke="#111" stroke-width="0.22">WT</text>
<line x1="115.05" y1="263.69" x2="115.05" y2="255.75" stroke="#111" stroke-width="1.3"/>
<line x1="109.05" y1="255.75" x2="121.05" y2="255.75" stroke="#111" stroke-width="1.3"/>
<rect x="103.30" y="263.69" width="23.50" height="39.71" fill="#d6d6d6" stroke="#111" stroke-width="1.1"/>
<line x1="115.05" y1="303.40" x2="115.05" y2="306.00" stroke="#111" stroke-width="1.1"/>
<text x="115.05" y="318.50" font-size="11" text-anchor="middle" font-weight="normal" fill="#111" stroke="#111" stroke-width="0.22">KO</text>
<text x="90.65" y="229.50" font-size="11.3" text-anchor="middle" font-weight="normal" fill="#111" stroke="#111" stroke-width="0.22">Bone Mineral Content</text>
<text x="9.30" y="271.95" font-size="11.3" text-anchor="middle" font-weight="normal" fill="#111" stroke="#111" stroke-width="0.22" transform="rotate(-90 9.30 271.95)">grams</text>
<line x1="204.80" y1="240.20" x2="204.80" y2="304.20" stroke="#111" stroke-width="1.3"/>
<line x1="203.30" y1="303.60" x2="299.60" y2="303.60" stroke="#111" stroke-width="1.3"/>
<line x1="202.20" y1="303.60" x2="204.80" y2="303.60" stroke="#111" stroke-width="1.3"/>
<text x="197.60" y="307.60" font-size="10.8" text-anchor="end" font-weight="normal" fill="#111" stroke="#111" stroke-width="0.22">0</text>
<line x1="202.20" y1="282.67" x2="204.80" y2="282.67" stroke="#111" stroke-width="1.3"/>
<text x="197.60" y="286.67" font-size="10.8" text-anchor="end" font-weight="normal" fill="#111" stroke="#111" stroke-width="0.22">10</text>
<line x1="202.20" y1="261.73" x2="204.80" y2="261.73" stroke="#111" stroke-width="1.3"/>
<text x="197.60" y="265.73" font-size="10.8" text-anchor="end" font-weight="normal" fill="#111" stroke="#111" stroke-width="0.22">20</text>
<line x1="202.20" y1="240.80" x2="204.80" y2="240.80" stroke="#111" stroke-width="1.3"/>
<text x="197.60" y="244.80" font-size="10.8" text-anchor="end" font-weight="normal" fill="#111" stroke="#111" stroke-width="0.22">30</text>
<line x1="228.50" y1="253.57" x2="228.50" y2="251.27" stroke="#111" stroke-width="1.3"/>
<line x1="222.50" y1="251.27" x2="234.50" y2="251.27" stroke="#111" stroke-width="1.3"/>
<rect x="216.40" y="253.57" width="24.20" height="50.03" fill="#000" stroke="#111" stroke-width="1.1"/>
<line x1="228.50" y1="303.60" x2="228.50" y2="306.20" stroke="#111" stroke-width="1.1"/>
<text x="228.50" y="318.50" font-size="11" text-anchor="middle" font-weight="normal" fill="#111" stroke="#111" stroke-width="0.22">WT</text>
<line x1="275.25" y1="263.72" x2="275.25" y2="259.22" stroke="#111" stroke-width="1.3"/>
<line x1="269.25" y1="259.22" x2="281.25" y2="259.22" stroke="#111" stroke-width="1.3"/>
<rect x="263.30" y="263.72" width="23.90" height="39.88" fill="#d6d6d6" stroke="#111" stroke-width="1.1"/>
<line x1="275.25" y1="303.60" x2="275.25" y2="306.20" stroke="#111" stroke-width="1.1"/>
<text x="275.25" y="318.50" font-size="11" text-anchor="middle" font-weight="normal" fill="#111" stroke="#111" stroke-width="0.22">KO</text>
<text x="252.20" y="229.50" font-size="11.3" text-anchor="middle" font-weight="normal" fill="#111" stroke="#111" stroke-width="0.22">Lean Mass</text>
<text x="173.00" y="272.20" font-size="11.3" text-anchor="middle" font-weight="normal" fill="#111" stroke="#111" stroke-width="0.22" transform="rotate(-90 173.00 272.20)">grams</text>
<polyline fill="none" stroke="#111" stroke-width="1.1" points="228.50,248.60 228.50,242.90 275.30,242.90 275.30,257.60"/>
<polygon points="249.70,236.00 250.31,237.46 251.89,237.59 250.68,238.62 251.05,240.16 249.70,239.34 248.35,240.16 248.72,238.62 247.51,237.59 249.09,237.46" fill="#000"/>
<line x1="351.60" y1="240.00" x2="351.60" y2="304.20" stroke="#111" stroke-width="1.3"/>
<line x1="350.10" y1="303.60" x2="445.80" y2="303.60" stroke="#111" stroke-width="1.3"/>
<line x1="349.00" y1="303.60" x2="351.60" y2="303.60" stroke="#111" stroke-width="1.3"/>
<text x="345.00" y="307.80" font-size="10.8" text-anchor="end" font-weight="normal" fill="#111" stroke="#111" stroke-width="0.22">0</text>
<line x1="349.00" y1="291.00" x2="351.60" y2="291.00" stroke="#111" stroke-width="1.3"/>
<text x="345.00" y="295.20" font-size="10.8" text-anchor="end" font-weight="normal" fill="#111" stroke="#111" stroke-width="0.22">1</text>
<line x1="349.00" y1="278.40" x2="351.60" y2="278.40" stroke="#111" stroke-width="1.3"/>
<text x="345.00" y="282.60" font-size="10.8" text-anchor="end" font-weight="normal" fill="#111" stroke="#111" stroke-width="0.22">2</text>
<line x1="349.00" y1="265.80" x2="351.60" y2="265.80" stroke="#111" stroke-width="1.3"/>
<text x="345.00" y="270.00" font-size="10.8" text-anchor="end" font-weight="normal" fill="#111" stroke="#111" stroke-width="0.22">3</text>
<line x1="349.00" y1="253.20" x2="351.60" y2="253.20" stroke="#111" stroke-width="1.3"/>
<text x="345.00" y="257.40" font-size="10.8" text-anchor="end" font-weight="normal" fill="#111" stroke="#111" stroke-width="0.22">4</text>
<line x1="349.00" y1="240.60" x2="351.60" y2="240.60" stroke="#111" stroke-width="1.3"/>
<text x="345.00" y="244.80" font-size="10.8" text-anchor="end" font-weight="normal" fill="#111" stroke="#111" stroke-width="0.22">5</text>
<line x1="375.25" y1="256.98" x2="375.25" y2="246.90" stroke="#111" stroke-width="1.3"/>
<line x1="369.25" y1="246.90" x2="381.25" y2="246.90" stroke="#111" stroke-width="1.3"/>
<rect x="363.60" y="256.98" width="23.30" height="46.62" fill="#000" stroke="#111" stroke-width="1.1"/>
<line x1="375.25" y1="303.60" x2="375.25" y2="306.20" stroke="#111" stroke-width="1.1"/>
<text x="375.25" y="318.50" font-size="11" text-anchor="middle" font-weight="normal" fill="#111" stroke="#111" stroke-width="0.22">WT</text>
<line x1="422.00" y1="277.27" x2="422.00" y2="273.11" stroke="#111" stroke-width="1.3"/>
<line x1="416.00" y1="273.11" x2="428.00" y2="273.11" stroke="#111" stroke-width="1.3"/>
<rect x="410.30" y="277.27" width="23.40" height="26.33" fill="#d6d6d6" stroke="#111" stroke-width="1.1"/>
<line x1="422.00" y1="303.60" x2="422.00" y2="306.20" stroke="#111" stroke-width="1.1"/>
<text x="422.00" y="318.50" font-size="11" text-anchor="middle" font-weight="normal" fill="#111" stroke="#111" stroke-width="0.22">KO</text>
<text x="398.70" y="229.50" font-size="11.3" text-anchor="middle" font-weight="normal" fill="#111" stroke="#111" stroke-width="0.22">Fat Mass</text>
<text x="326.50" y="272.10" font-size="11.3" text-anchor="middle" font-weight="normal" fill="#111" stroke="#111" stroke-width="0.22" transform="rotate(-90 326.50 272.10)">grams</text>
<polyline fill="none" stroke="#111" stroke-width="1.1" points="375.30,242.00 375.30,239.40 420.30,239.40 420.30,270.50"/>
<polygon points="397.70,233.30 398.31,234.76 399.89,234.89 398.68,235.92 399.05,237.46 397.70,236.63 396.35,237.46 396.72,235.92 395.51,234.89 397.09,234.76" fill="#000"/>
<line x1="507.10" y1="240.40" x2="507.10" y2="304.20" stroke="#111" stroke-width="1.3"/>
<line x1="505.60" y1="303.60" x2="602.00" y2="303.60" stroke="#111" stroke-width="1.3"/>
<line x1="504.50" y1="303.60" x2="507.10" y2="303.60" stroke="#111" stroke-width="1.3"/>
<text x="500.20" y="307.80" font-size="10.8" text-anchor="end" font-weight="normal" fill="#111" stroke="#111" stroke-width="0.22">0</text>
<line x1="504.50" y1="287.95" x2="507.10" y2="287.95" stroke="#111" stroke-width="1.3"/>
<text x="500.20" y="292.15" font-size="10.8" text-anchor="end" font-weight="normal" fill="#111" stroke="#111" stroke-width="0.22">5</text>
<line x1="504.50" y1="272.30" x2="507.10" y2="272.30" stroke="#111" stroke-width="1.3"/>
<text x="500.20" y="276.50" font-size="10.8" text-anchor="end" font-weight="normal" fill="#111" stroke="#111" stroke-width="0.22">10</text>
<line x1="504.50" y1="256.65" x2="507.10" y2="256.65" stroke="#111" stroke-width="1.3"/>
<text x="500.20" y="260.85" font-size="10.8" text-anchor="end" font-weight="normal" fill="#111" stroke="#111" stroke-width="0.22">15</text>
<line x1="504.50" y1="241.00" x2="507.10" y2="241.00" stroke="#111" stroke-width="1.3"/>
<text x="500.20" y="245.20" font-size="10.8" text-anchor="end" font-weight="normal" fill="#111" stroke="#111" stroke-width="0.22">20</text>
<line x1="530.80" y1="261.97" x2="530.80" y2="254.15" stroke="#111" stroke-width="1.3"/>
<line x1="524.80" y1="254.15" x2="536.80" y2="254.15" stroke="#111" stroke-width="1.3"/>
<rect x="518.90" y="261.97" width="23.80" height="41.63" fill="#000" stroke="#111" stroke-width="1.1"/>
<line x1="530.80" y1="303.60" x2="530.80" y2="306.20" stroke="#111" stroke-width="1.1"/>
<text x="530.80" y="318.50" font-size="11" text-anchor="middle" font-weight="normal" fill="#111" stroke="#111" stroke-width="0.22">WT</text>
<line x1="577.70" y1="272.93" x2="577.70" y2="269.48" stroke="#111" stroke-width="1.3"/>
<line x1="571.70" y1="269.48" x2="583.70" y2="269.48" stroke="#111" stroke-width="1.3"/>
<rect x="565.90" y="272.93" width="23.60" height="30.67" fill="#d6d6d6" stroke="#111" stroke-width="1.1"/>
<line x1="577.70" y1="303.60" x2="577.70" y2="306.20" stroke="#111" stroke-width="1.1"/>
<text x="577.70" y="318.50" font-size="11" text-anchor="middle" font-weight="normal" fill="#111" stroke="#111" stroke-width="0.22">KO</text>
<text x="554.55" y="229.50" font-size="11.3" text-anchor="middle" font-weight="normal" fill="#111" stroke="#111" stroke-width="0.22">Adiposity</text>
<text x="475.60" y="272.30" font-size="11.3" text-anchor="middle" font-weight="normal" fill="#111" stroke="#111" stroke-width="0.22" transform="rotate(-90 475.60 272.30)">Percentage Fat</text>
<polyline fill="none" stroke="#111" stroke-width="1.1" points="530.80,249.50 530.80,246.10 576.80,246.10 576.80,264.50"/>
<polygon points="552.70,238.60 553.31,240.06 554.89,240.19 553.68,241.22 554.05,242.76 552.70,241.94 551.35,242.76 551.72,241.22 550.51,240.19 552.09,240.06" fill="#000"/>
</svg>
</body></html>
